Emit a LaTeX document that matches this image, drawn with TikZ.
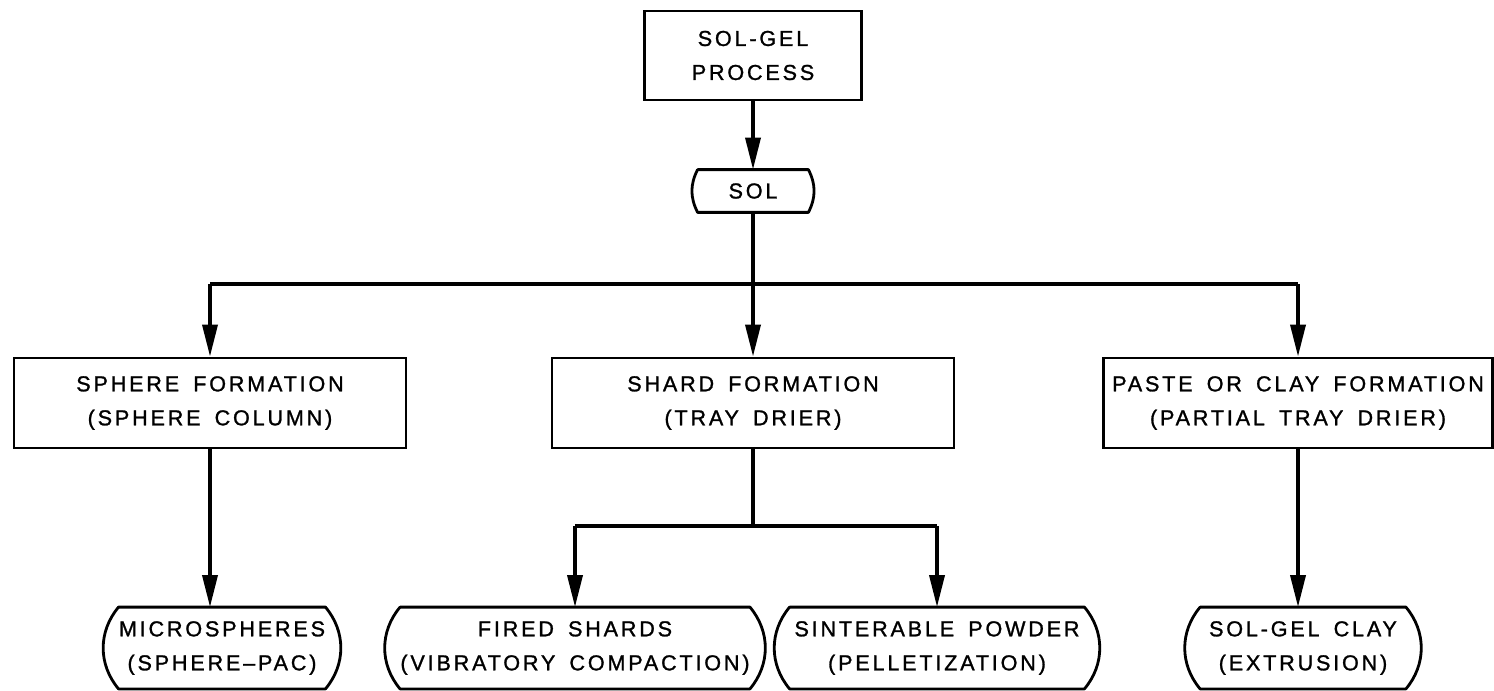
\documentclass[tikz,border=0pt]{standalone}
\usepackage{fontspec}
\setmainfont{Liberation Sans}[LetterSpace=13,WordSpace=1.6,FakeBold=1.2]
\usetikzlibrary{arrows.meta}
\newcommand{\lettering}{\fontsize{10.8bp}{17bp}\selectfont}
\newcommand{\termoutline}[2]{%
  \draw[line width=1.4bp,line cap=round,line join=round]
    (#1.north west) -- (#1.north east) to[bend left=#2] (#1.south east)
    -- (#1.south west) to[bend left=#2] (#1.north west);}
\tikzset{
  procbox/.style={draw,line width=1.4bp,inner sep=0pt,align=center,font=\lettering},
  termbox/.style={inner sep=0pt,align=center,font=\lettering},
  flow/.style={line width=1.8bp,-{Triangle[length=16bp,width=7.5bp]}},
  link/.style={line width=1.8bp},
}
\begin{document}
\begin{tikzpicture}[x=0.5bp,y=-0.5bp]
  \useasboundingbox (0,0) rectangle (1494,691);

  % Process boxes
  \node[procbox,minimum width=108.5bp,minimum height=44.5bp] (top) at (753,55.5) {SOL-GEL\\PROCESS};
  \node[termbox,minimum width=55bp,minimum height=21bp] (sol) at (753,191) {SOL};
  \node[procbox,minimum width=196bp,minimum height=45bp] (sphere) at (210,403) {SPHERE FORMATION\\(SPHERE COLUMN)};
  \node[procbox,minimum width=201bp,minimum height=45bp] (shard) at (753,403) {SHARD FORMATION\\(TRAY DRIER)};
  \node[procbox,minimum width=194.5bp,minimum height=45bp] (paste) at (1298,403) {PASTE OR CLAY FORMATION\\(PARTIAL TRAY DRIER)};

  % Products
  \node[termbox,minimum width=94bp,minimum height=40.5bp] (micro) at (222,648) {MICROSPHERES\\(SPHERE–PAC)};
  \node[termbox,minimum width=164bp,minimum height=40.5bp] (fired) at (575,648) {FIRED SHARDS\\(VIBRATORY COMPACTION)};
  \node[termbox,minimum width=147bp,minimum height=40.5bp] (sinter) at (937,648) {SINTERABLE POWDER\\(PELLETIZATION)};
  \node[termbox,minimum width=102.5bp,minimum height=40.5bp] (clay) at (1303,648) {SOL-GEL CLAY\\(EXTRUSION)};

  \foreach \n/\b in {sol/27,micro/40,fired/40,sinter/40,clay/40}{
    \termoutline{\n}{\b}
  }

  % Branch lines
  \coordinate (bus) at (753,284);
  \coordinate (split) at (753,526);

  \draw[flow] (top.south) -- (sol.north);
  \draw[link] (sol.south) -- (bus);
  \draw[link] (bus -| sphere) -- (bus -| paste);
  \draw[flow] (bus -| sphere) -- (sphere.north);
  \draw[flow] (bus) -- (shard.north);
  \draw[flow] (bus -| paste) -- (paste.north);

  \draw[flow] (sphere.south) -- (sphere.south |- micro.north);
  \draw[link] (shard.south) -- (split);
  \draw[link] (split -| fired) -- (split -| sinter);
  \draw[flow] (split -| fired) -- (fired.north);
  \draw[flow] (split -| sinter) -- (sinter.north);
  \draw[flow] (paste.south) -- (paste.south |- clay.north);
\end{tikzpicture}
\end{document}
